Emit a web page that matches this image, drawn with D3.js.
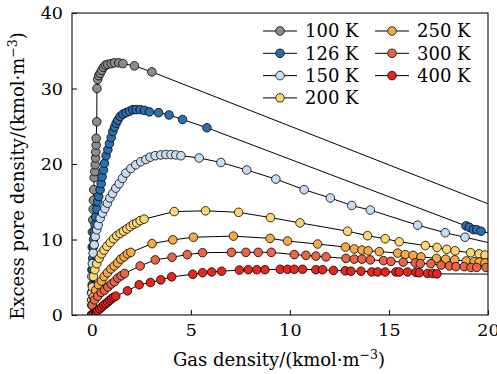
<!DOCTYPE html>
<html>
<head>
<meta charset="utf-8">
<script src="https://cdn.jsdelivr.net/npm/d3@7"></script>
<style>
body { margin: 0; background: #fff; }
svg { display: block; font-family: "DejaVu Serif", serif; }
</style>
</head>
<body>
<div id="chart"></div>
<script>
// temperatures and colours of the isotherms
var temps = ['100 K', '126 K', '150 K', '200 K', '250 K', '300 K', '400 K'];
var colors = ['#8c8c8c', '#2a6fae', '#c7dcf0', '#fdd673', '#f5aa48', '#e8654a', '#e6261f'];

// [gas density, excess pore density]
var t100 = [[0,0],[0.005,3],[0.01,6],[0.02,9],[0.03,11],[0.05,12.6],[0.07,14.0],[0.08,15.2],[0.1,16.6],[0.12,18.2],
	[0.15,19.0],[0.17,19.9],[0.19,20.8],[0.2,21.6],[0.22,22.5],[0.22,23.4],[0.25,25.6],[0.26,30.0],[0.3,31.2],
	[0.35,31.7],[0.42,32.0],[0.5,32.4],[0.59,32.8],[0.69,33.1],[0.81,33.2],[0.98,33.3],[1.14,33.4],[1.36,33.4],
	[1.57,33.3],[2.15,33.0],[3.03,32.2],[21,13.7]];
var t126 = [[0,0],[0.01,2],[0.02,4],[0.03,6],[0.05,7.5],[0.07,9.0],[0.09,10.0],[0.12,11.0],[0.16,12.0],[0.2,13.0],
	[0.25,14.0],[0.3,15.0],[0.35,15.7],[0.42,16.6],[0.47,17.4],[0.52,18.3],[0.59,19.2],[0.64,20.1],[0.72,21.1],
	[0.81,21.9],[0.89,22.7],[0.98,23.5],[1.06,24.3],[1.15,24.9],[1.23,25.4],[1.31,25.8],[1.43,26.3],[1.57,26.6],
	[1.73,26.8],[1.9,27.0],[2.07,27.2],[2.24,27.2],[2.44,27.2],[2.66,27.1],[2.91,26.9],[3.37,26.8],[3.9,26.5],
	[4.58,25.9],[5.81,24.8],[18.89,11.8],[19.06,11.6],[19.26,11.3],[19.43,11.3],[19.65,11.1],[21,10.2]];
var t150 = [[0,0],[0,2.9],[0,5.1],[0.03,6.8],[0.07,8.2],[0.12,9.3],[0.17,10.4],[0.25,11.3],[0.32,11.9],[0.42,12.8],
	[0.54,13.5],[0.66,14.1],[0.79,14.8],[0.91,15.5],[1.05,16.1],[1.21,16.8],[1.38,17.4],[1.55,18.1],[1.72,18.8],
	[1.97,19.4],[2.22,19.9],[2.47,20.3],[2.73,20.6],[2.94,20.9],[3.2,21.1],[3.48,21.2],[3.74,21.25],[4.0,21.25],
	[4.24,21.2],[4.5,21.1],[5.42,20.8],[6.52,20.2],[7.82,19.2],[9.29,18.0],[10.72,16.6],[12.04,15.5],[13.12,14.5],
	[14.06,13.9],[16.45,11.9],[17.84,10.9],[18.84,10.3],[21,9.0]];
var t200 = [[0,0],[0,2.0],[0.03,3.7],[0.08,5.1],[0.15,6.0],[0.25,6.8],[0.37,7.5],[0.49,8.1],[0.62,8.6],[0.76,9.1],
	[0.93,9.6],[1.1,10.1],[1.26,10.5],[1.43,10.8],[1.6,11.1],[1.77,11.4],[1.94,11.7],[2.1,12.0],[2.27,12.2],
	[2.44,12.5],[2.64,12.7],[4.16,13.7],[5.74,13.8],[7.41,13.6],[9.02,12.9],[10.51,12.2],[12.91,11.1],[13.92,10.5],
	[14.81,10.1],[15.52,9.7],[16.84,9.2],[17.43,8.95],[17.92,8.7],[18.34,8.5],[19.12,8.25],[19.55,8.1],[19.85,7.95],
	[21,7.6]];
var t250 = [[0,0],[0,1.3],[0.08,2.4],[0.2,3.3],[0.34,4.0],[0.49,4.5],[0.62,5.1],[0.79,5.6],[0.96,6.1],[1.13,6.5],
	[1.3,6.9],[1.46,7.4],[1.63,7.7],[1.8,8.1],[1.97,8.3],[3.04,9.45],[4.09,9.95],[5.13,10.3],[7.15,10.45],[9.0,10.15],
	[9.88,9.8],[11.4,9.4],[12.8,9.0],[13.25,8.75],[13.64,8.6],[13.95,8.5],[14.51,8.4],[15.44,8.2],[15.82,8.0],
	[16.22,7.9],[16.62,7.7],[17.4,7.5],[17.86,7.4],[18.32,7.3],[18.9,7.15],[19.3,7.05],[19.55,7.0],[19.85,6.9],[21,6.6]];
var t300 = [[0,0],[0.02,1.3],[0.14,2.0],[0.3,2.5],[0.47,3.0],[0.64,3.3],[0.81,3.7],[0.98,4.1],[1.14,4.4],[1.31,4.9],
	[1.48,5.2],[1.65,5.5],[2.44,6.5],[3.2,7.3],[4.05,7.65],[4.82,8.0],[5.59,8.25],[7.05,8.3],[7.78,8.3],[8.4,8.3],
	[9.06,8.3],[10.22,8.0],[10.81,7.9],[11.31,7.8],[11.82,7.7],[12.83,7.5],[13.25,7.4],[13.64,7.4],[14.06,7.3],
	[14.73,7.2],[15.1,7.1],[15.72,7.0],[16.33,6.9],[16.58,6.8],[17.12,6.8],[17.63,6.6],[18.05,6.5],[18.38,6.4],
	[18.8,6.4],[19.14,6.3],[19.43,6.3],[19.9,6.3],[21,6.1]];
var t400 = [[0,0],[0.1,0.2],[0.2,0.4],[0.3,0.6],[0.4,0.8],[0.5,1.05],[0.6,1.3],[0.7,1.5],[0.8,1.7],[0.9,1.95],
	[1.0,2.15],[1.1,2.35],[1.21,2.5],[1.8,3.2],[2.39,4.0],[2.96,4.3],[3.48,4.65],[4.03,5.05],[5.1,5.4],[5.59,5.6],
	[6.05,5.7],[6.55,5.8],[7.45,5.95],[7.9,6.0],[8.33,6.0],[8.74,6.0],[9.51,6.05],[9.88,6.05],[10.22,6.05],
	[10.64,6.05],[11.31,6.0],[11.65,6.0],[12.2,5.9],[12.79,5.85],[13.08,5.8],[13.59,5.8],[14.13,5.7],[14.43,5.7],
	[14.81,5.7],[15.35,5.7],[15.52,5.7],[15.94,5.7],[16.36,5.65],[16.53,5.6],[16.95,5.5],[17.21,5.5],[17.42,5.45],
	[21,5.4]];
var series = [t100, t126, t150, t200, t250, t300, t400];

var xTicks = [0, 5, 10, 15, 20];
var yTicks = [0, 10, 20, 30, 40];

var W = 497, H = 374;
var m = {left: 72, right: 488, top: 13, bottom: 315};
var fs = 18;

var svg = d3.select('#chart').append('svg')
	.attr('width', W).attr('height', H);

var x = d3.scaleLinear().domain([-1, 20]).range([m.left, m.right]);
var y = d3.scaleLinear().domain([0, 40]).range([m.bottom, m.top]);

svg.append('clipPath').attr('id', 'plotclip')
	.append('rect')
	.attr('x', m.left).attr('y', m.top)
	.attr('width', m.right - m.left).attr('height', m.bottom - m.top);

var plot = svg.append('g').attr('clip-path', 'url(#plotclip)');
var line = d3.line().x(function(d){ return x(d[0]); }).y(function(d){ return y(d[1]); });

series.forEach(function(data, i){
	var g = plot.append('g').attr('class', 'isotherm');
	g.append('path')
		.attr('d', line(data))
		.attr('fill', 'none')
		.attr('stroke', '#000')
		.attr('stroke-width', 1);
	g.selectAll('circle').data(data).enter().append('circle')
		.attr('cx', function(d){ return x(d[0]); })
		.attr('cy', function(d){ return y(d[1]); })
		.attr('r', 4.3)
		.attr('fill', colors[i])
		.attr('stroke', '#000')
		.attr('stroke-width', 0.8);
});

// axes with inward ticks
var xAxis = svg.append('g')
	.attr('transform', 'translate(0,' + m.bottom + ')')
	.call(d3.axisBottom(x).tickValues(xTicks).tickSizeInner(-5).tickSizeOuter(0).tickPadding(9));
var yAxis = svg.append('g')
	.attr('transform', 'translate(' + m.left + ',0)')
	.call(d3.axisLeft(y).tickValues(yTicks).tickSizeInner(-5).tickSizeOuter(0).tickPadding(9));
[xAxis, yAxis].forEach(function(a){
	a.select('.domain').remove();
	a.selectAll('text').attr('font-size', 17.5).attr('font-family', '"DejaVu Serif", serif').attr('fill', '#000');
	a.selectAll('line').attr('stroke', '#000');
});

svg.append('rect')
	.attr('x', m.left).attr('y', m.top)
	.attr('width', m.right - m.left).attr('height', m.bottom - m.top)
	.attr('fill', 'none').attr('stroke', '#222').attr('stroke-width', 1.2);

// axis titles
var xt = svg.append('text')
	.attr('x', 279).attr('y', 366)
	.attr('text-anchor', 'middle').attr('font-size', fs);
xt.append('tspan').text('Gas density/(kmol·m');
xt.append('tspan').attr('dy', -7).attr('font-size', 12.5).text('−3');
xt.append('tspan').attr('dy', 7).text(')');

var yt = svg.append('text')
	.attr('transform', 'translate(24,176) rotate(-90)')
	.attr('text-anchor', 'middle').attr('font-size', fs);
yt.append('tspan').text('Excess pore density/(kmol·m');
yt.append('tspan').attr('dy', -7).attr('font-size', 12.5).text('−3');
yt.append('tspan').attr('dy', 7).text(')');

// legend, two columns
var legend = svg.append('g').attr('class', 'legend');
temps.forEach(function(t, i){
	var col = i < 4 ? 0 : 1, row = i < 4 ? i : i - 4;
	var lx = 263 + col * 112, ly = 31 + row * 22.3;
	var item = legend.append('g').attr('transform', 'translate(' + lx + ',' + ly + ')');
	item.append('line').attr('x1', 0).attr('x2', 34).attr('stroke', '#000').attr('stroke-width', 1);
	item.append('circle').attr('cx', 17).attr('r', 4.3)
		.attr('fill', colors[i]).attr('stroke', '#000').attr('stroke-width', 0.8);
	item.append('text').attr('x', 42).attr('dy', '0.35em').attr('font-size', fs).text(t);
});
</script>
</body>
</html>
